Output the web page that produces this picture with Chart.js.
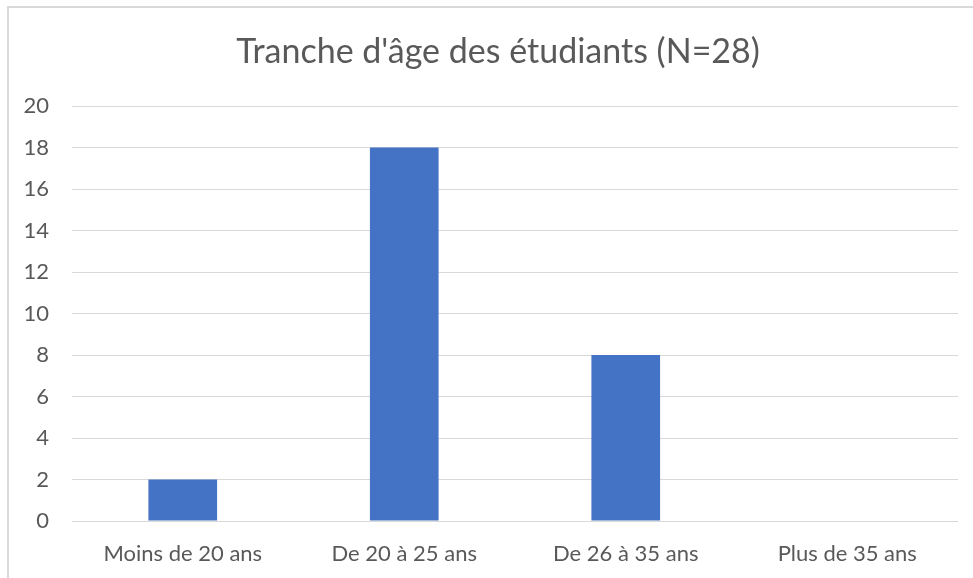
<!DOCTYPE html>
<html>
<head>
<meta charset="utf-8">
<script src="https://cdn.jsdelivr.net/npm/chart.js@4/dist/chart.umd.min.js"></script>
<style>
  html, body { margin: 0; padding: 0; background: #fff; }
  #wrap { position: relative; width: 973px; height: 578px; overflow: hidden; }
  #frame { position: absolute; left: 7px; top: 6px; width: 1000px; height: 700px; border: 2px solid #d9d9d9; box-sizing: border-box; }
  canvas { position: absolute; left: 0; top: 0; }
</style>
</head>
<body>
<div id="wrap">
  <div id="frame"></div>
  <canvas id="c" width="973" height="578"></canvas>
</div>
<script>
const titleText = "Tranche d'âge des étudiants (N=28)";
const categories = ['Moins de 20 ans', 'De 20 à 25 ans', 'De 26 à 35 ans', 'Plus de 35 ans'];
const counts = [2, 18, 8, 0];
const yMin = 0, yMax = 20, yStep = 2;

const grey = '#595959';
const fontFamily = 'Lato, "Open Sans", sans-serif';

// title drawn by hand: Excel centres it on the frame, not on the canvas
const titlePlugin = {
  id: 'xlTitle',
  afterDraw(chart) {
    const ctx = chart.ctx;
    ctx.save();
    ctx.font = '34px ' + fontFamily;
    ctx.fillStyle = grey;
    ctx.textAlign = 'center';
    ctx.textBaseline = 'middle';
    ctx.fillText(titleText, 498, 52);
    ctx.restore();
  }
};

new Chart(document.getElementById('c'), {
  type: 'bar',
  data: {
    labels: categories,
    datasets: [{ label: 'Effectif', data: counts, backgroundColor: '#4472C4', borderWidth: 0,
      categoryPercentage: 0.62, barPercentage: 0.5 }]
  },
  options: {
    responsive: false,
    animation: false,
    layout: { padding: { left: 0, right: 15, top: 106, bottom: 0 } },
    plugins: {
      legend: { display: false },
      tooltip: { enabled: false },
      title: { display: false }
    },
    scales: {
      x: {
        grid: { display: false },
        border: { display: false },
        ticks: { color: grey, font: { family: fontFamily, size: 22 }, padding: 12, maxRotation: 0 },
        afterFit: s => { s.height = 57; }
      },
      y: {
        min: yMin, max: yMax,
        grid: { color: '#d9d9d9', lineWidth: 1, drawTicks: false },
        border: { display: false },
        ticks: { stepSize: yStep, color: grey, font: { family: fontFamily, size: 22 }, padding: 23 },
        afterFit: s => { s.width = 72; }
      }
    }
  },
  plugins: [titlePlugin]
});
</script>
</body>
</html>
